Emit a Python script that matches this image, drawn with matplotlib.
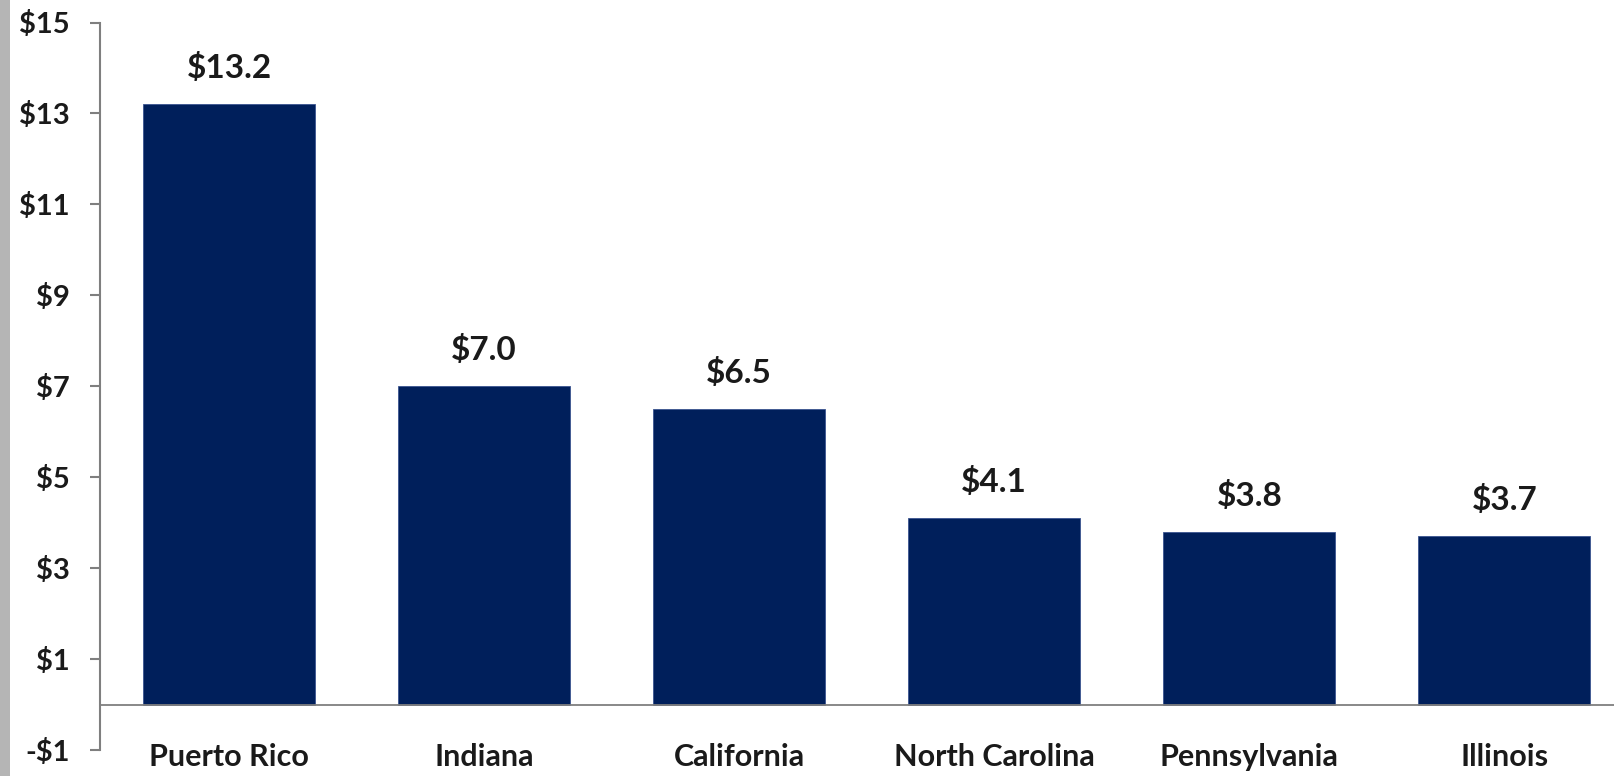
import matplotlib
matplotlib.use("Agg")
import matplotlib.pyplot as plt
from matplotlib.patches import Rectangle

categories = ["Puerto Rico", "Indiana", "California", "North Carolina", "Pennsylvania", "Illinois"]
values = [13.2, 7.0, 6.5, 4.1, 3.8, 3.7]
yticks = [-1, 1, 3, 5, 7, 9, 11, 13, 15]

W, H = 1614, 776
fig = plt.figure(figsize=(W / 100, H / 100), dpi=100)
fig.patch.set_facecolor("white")

left = 100 / W
bottom = (H - 750) / H
top = 1 - 22.5 / H
ax = fig.add_axes([left, bottom, 1 - left, top - bottom])

fam = ["Lato", "DejaVu Sans"]
text_color = "#1a1a1a"
navy = "#001f5b"

x = list(range(len(categories)))
ax.bar(x, values, width=0.675, color=navy, edgecolor="#3a5490", linewidth=0.6, zorder=2)
ax.set_xlim(-0.506, len(categories) - 1 + 0.43)
ax.set_ylim(-1, 15)

for xi, v in zip(x, values):
    ax.annotate(f"${v:.1f}", (xi, v), xytext=(0, 26), textcoords="offset points",
                ha="center", va="center", fontsize=24, fontweight="bold",
                color=text_color, family=fam)

ax.axhline(0, color="#7f7f7f", linewidth=1.3, zorder=3)

for s in ["top", "right", "bottom"]:
    ax.spines[s].set_visible(False)
ax.spines["left"].set_color("#7f7f7f")
ax.spines["left"].set_linewidth(1.5)

ax.set_yticks(yticks)
ax.set_yticklabels([f"-${-t}" if t < 0 else f"${t}" for t in yticks],
                   fontsize=21, color=text_color, family=fam, fontweight="bold")
ax.tick_params(axis="y", direction="out", length=7, width=1.5, color="#7f7f7f", pad=15)
ax.set_xticks([])

for xi, c in zip(x, categories):
    ax.text(xi, -1.16, c, ha="center", va="center", fontsize=22, color=text_color,
            family=fam, fontweight="bold", clip_on=False)

# gray strip on left edge
fig.patches.append(Rectangle((0, 0), 10 / W, 1, transform=fig.transFigure,
                             facecolor="#b5b5b5", edgecolor="none", zorder=0))

fig.savefig("out.png", dpi=100)
